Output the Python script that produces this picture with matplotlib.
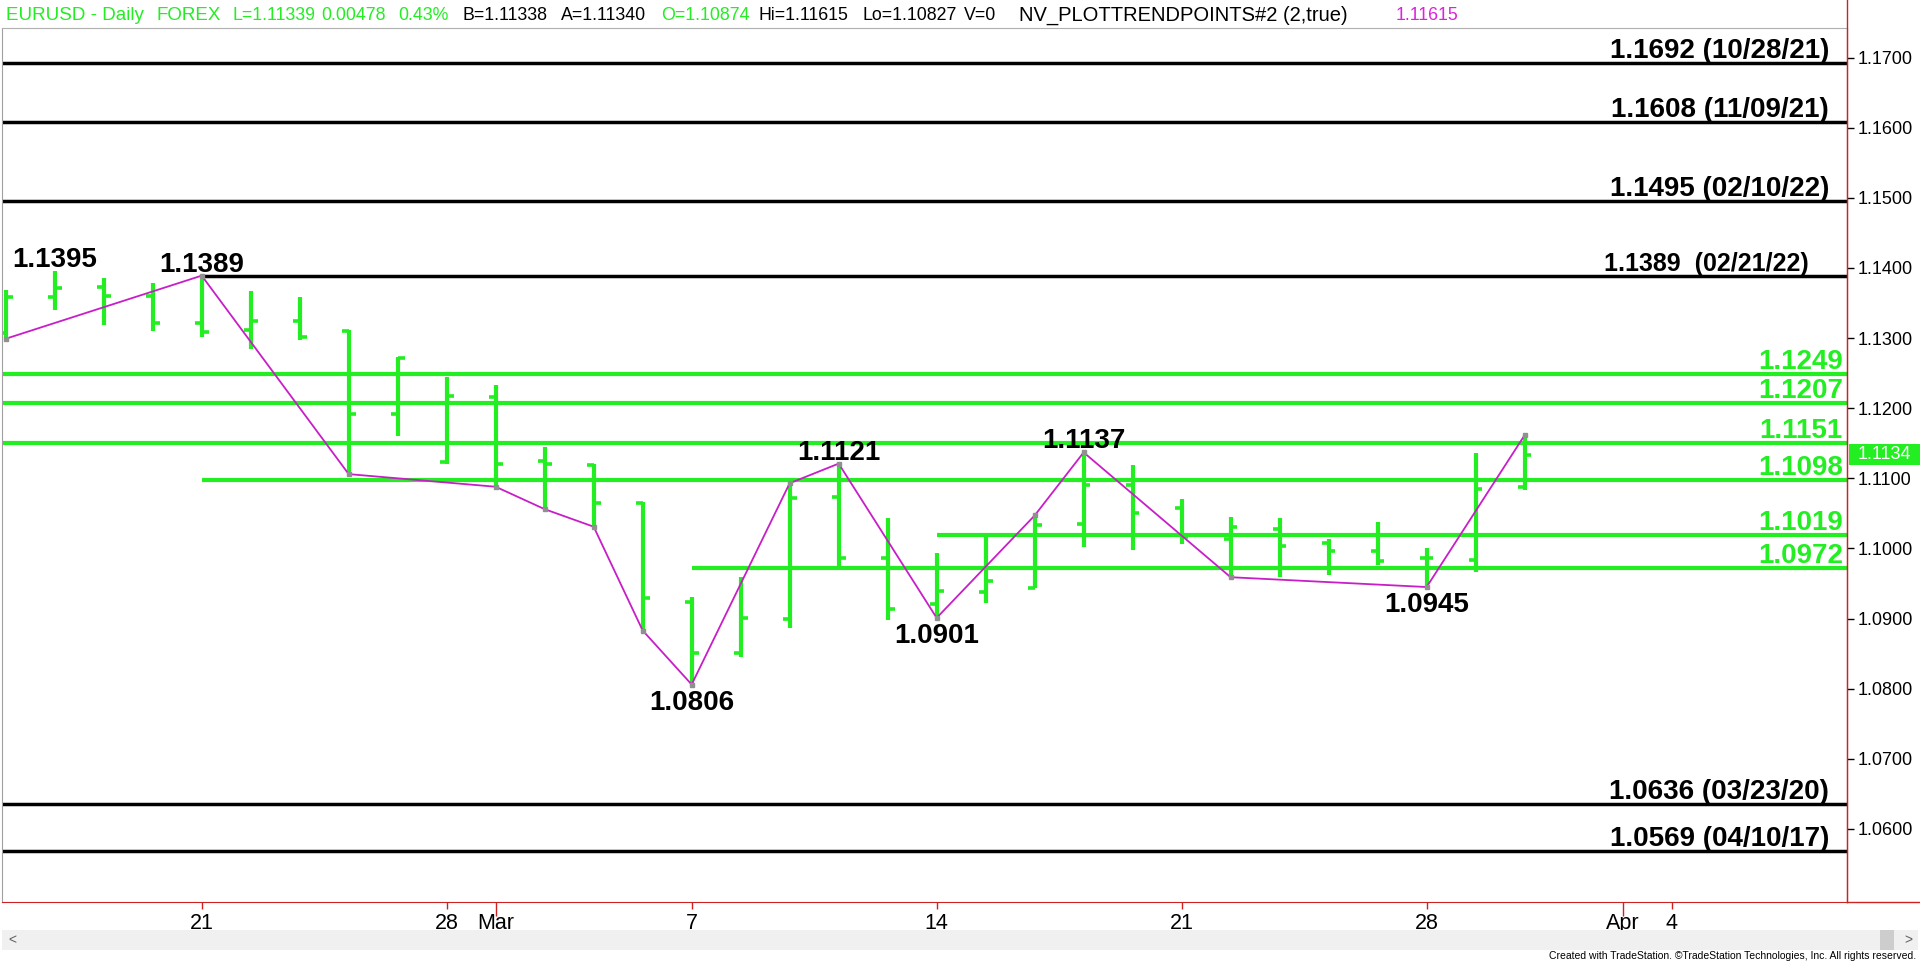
import numpy as np
import pandas as pd
import matplotlib
matplotlib.use("Agg")
import matplotlib.pyplot as plt
import matplotlib.transforms as mtransforms
from matplotlib.patches import Rectangle
from matplotlib.lines import Line2D

plt.rcParams['font.family'] = ['Liberation Sans', 'DejaVu Sans']

# ---- data ----
bar_dates = pd.bdate_range("2022-02-15", "2022-03-30")
opens = [1.1307, 1.1358, 1.1373, 1.1360, 1.1321, 1.1312, 1.1325, 1.1310, 1.1192, 1.1123,
         1.1216, 1.1124, 1.1119, 1.1065, 1.0924, 1.0851, 1.0899, 1.1073, 1.0987, 1.0921,
         1.0938, 1.0944, 1.1035, 1.1090, 1.1058, 1.1014, 1.1028, 1.1008, 1.0996, 1.0986,
         1.0983, 1.10874]
highs = [1.1368, 1.1395, 1.1386, 1.1378, 1.1389, 1.1367, 1.1359, 1.1311, 1.1273, 1.1245,
         1.1233, 1.1144, 1.1121, 1.1066, 1.0931, 1.0959, 1.1093, 1.1121, 1.1044, 1.0994,
         1.1016, 1.1047, 1.1137, 1.1119, 1.1070, 1.1045, 1.1044, 1.1013, 1.1038, 1.1000,
         1.1136, 1.11615]
lows = [1.1299, 1.1340, 1.1318, 1.1310, 1.1301, 1.1285, 1.1297, 1.1106, 1.1161, 1.1121,
        1.1088, 1.1056, 1.1031, 1.0883, 1.0806, 1.0845, 1.0886, 1.0971, 1.0898, 1.0901,
        1.0922, 1.0943, 1.1002, 1.0998, 1.1006, 1.0959, 1.0959, 1.0962, 1.0976, 1.0945,
        1.0966, 1.10827]
closes = [1.1358, 1.1372, 1.1360, 1.1322, 1.1309, 1.1325, 1.1302, 1.1192, 1.1271, 1.1217,
          1.1121, 1.1120, 1.1065, 1.0929, 1.0851, 1.0901, 1.1072, 1.0987, 1.0914, 1.0939,
          1.0954, 1.1033, 1.1090, 1.1051, 1.1016, 1.1030, 1.1004, 1.0996, 1.0982, 1.0986,
          1.1085, 1.11339]

pivot_dates = ["2022-02-15", "2022-02-21", "2022-02-24", "2022-03-01", "2022-03-02",
               "2022-03-03", "2022-03-04", "2022-03-07", "2022-03-09", "2022-03-10",
               "2022-03-14", "2022-03-16", "2022-03-17", "2022-03-22", "2022-03-28",
               "2022-03-30"]
pivot_values = [1.1299, 1.1389, 1.1106, 1.1088, 1.1056, 1.1031, 1.0883, 1.0806, 1.1093,
                1.1121, 1.0901, 1.1047, 1.1137, 1.0959, 1.0945, 1.11615]

swing_dates = ["2022-02-16", "2022-02-21", "2022-03-07", "2022-03-10", "2022-03-14",
               "2022-03-17", "2022-03-28"]
swing_values = [1.1395, 1.1389, 1.0806, 1.1121, 1.0901, 1.1137, 1.0945]
swing_is_high = [True, True, False, True, False, True, False]

black_levels = [1.1692, 1.1608, 1.1495, 1.1389, 1.0636, 1.0569]
black_labels = ["1.1692 (10/28/21)", "1.1608 (11/09/21)", "1.1495 (02/10/22)",
                "1.1389  (02/21/22)", "1.0636 (03/23/20)", "1.0569 (04/10/17)"]
black_starts = [None, None, None, "2022-02-21", None, None]

green_levels = [1.1249, 1.1207, 1.1151, 1.1098, 1.1019, 1.0972]
green_starts = [None, None, None, "2022-02-21", "2022-03-14", "2022-03-07"]

day_ticks = ["2022-02-21", "2022-02-28", "2022-03-07", "2022-03-14", "2022-03-21",
             "2022-03-28", "2022-04-04"]
day_labels = ["21", "28", "7", "14", "21", "28", "4"]
month_ticks = ["2022-03-01", "2022-04-01"]
month_labels = ["Mar", "Apr"]
y_ticks = [1.06, 1.07, 1.08, 1.09, 1.10, 1.11, 1.12, 1.13, 1.14, 1.15, 1.16, 1.17]
last_price = 1.1134

GREEN = "#22ee22"
RED = "#cc2222"
MAGENTA = "#c81ec8"

calendar = pd.bdate_range("2022-02-15", "2022-04-29")
pos = {d: i for i, d in enumerate(calendar)}


def xi(d):
    return pos[pd.Timestamp(d)]


W, H = 1920, 963
fig = plt.figure(figsize=(W / 100, H / 100), dpi=100)
fig.patch.set_facecolor("white")
ax = fig.add_axes([2 / W, (H - 902) / H, 1845 / W, (902 - 28) / H])

x_left, x_right = -0.076, 37.58
ax.set_xlim(x_left, x_right)
ax.set_ylim(1.04959, 1.17421)

ytr = ax.get_yaxis_transform()

# horizontal levels
for lvl, lab, st in zip(black_levels, black_labels, black_starts):
    x0 = x_left if st is None else xi(st)
    ax.hlines(lvl, x0, x_right, color="black", lw=2.5, zorder=1)
    xr = 0.9794 if st is not None else 0.9902
    fs = 18 if st is not None else 20
    ax.annotate(lab, xy=(xr, lvl), xycoords=ytr, xytext=(0, 5), textcoords="offset pixels",
                ha="right", va="baseline", fontsize=fs, fontweight="bold", color="black")

for lvl, st in zip(green_levels, green_starts):
    x0 = x_left if st is None else xi(st)
    ax.hlines(lvl, x0, x_right, color=GREEN, lw=3.0, zorder=1)
    ax.annotate(f"{lvl:.4f}", xy=(0.9978, lvl), xycoords=ytr, xytext=(0, 5),
                textcoords="offset pixels", ha="right", va="baseline", fontsize=20,
                fontweight="bold", color=GREEN)

# OHLC bars
bx = np.array([xi(d) for d in bar_dates])
ax.vlines(bx, lows, highs, color=GREEN, lw=3.0, zorder=2)
ax.hlines(opens, bx - 0.14, bx, color=GREEN, lw=2.6, zorder=2)
ax.hlines(closes, bx, bx + 0.14, color=GREEN, lw=2.6, zorder=2)

# trend points zigzag
px = [xi(d) for d in pivot_dates]
ax.plot(px, pivot_values, color=MAGENTA, lw=1.3, zorder=3)
ax.plot(px, pivot_values, ls="none", marker="s", ms=2.5, color="#909090", zorder=4)

for d, v, hi in zip(swing_dates, swing_values, swing_is_high):
    ax.annotate(f"{v:.4f}", xy=(xi(d), v), xytext=(0, -2 if hi else -5),
                textcoords="offset pixels", ha="center", va="bottom" if hi else "top",
                fontsize=20, fontweight="bold", color="black", zorder=5)

# axes styling
ax.yaxis.tick_right()
ax.set_yticks(y_ticks)
ax.set_yticklabels([f"{v:.4f}" for v in y_ticks])
ax.tick_params(axis="y", direction="out", length=5, width=1, colors="black",
               labelsize=13, pad=3)
ax.set_xticks([xi(d) for d in day_ticks])
ax.set_xticklabels(day_labels)
ax.set_xticks([xi(d) for d in month_ticks], minor=True)
ax.set_xticklabels(month_labels, minor=True)
ax.tick_params(axis="x", which="major", direction="out", length=5, width=1, color=RED,
               labelsize=15.5, pad=3)
ax.tick_params(axis="x", which="minor", direction="out", length=10, width=1, color=RED,
               labelsize=15.5, pad=-2)
ax.spines["right"].set_color(RED)
ax.spines["bottom"].set_color(RED)
ax.spines["left"].set_color("#a0a0a0")
ax.spines["top"].set_color("#b0b0b0")

# axis line extensions
yb = (H - 902) / H
fig.add_artist(Line2D([1847 / W, 1847 / W], [yb, 1], color=RED, lw=1))
fig.add_artist(Line2D([1847 / W, 1], [yb, yb], color=RED, lw=1))

# last price marker on the price scale
btr = mtransforms.blended_transform_factory(fig.transFigure, ax.transData)
ax.add_patch(Rectangle((1849 / W, last_price - 0.0015), 71 / W, 0.0030, transform=btr,
                       facecolor=GREEN, edgecolor="none", clip_on=False, zorder=6))
ax.text(1884 / W, last_price, f"{last_price:.4f}", transform=btr, ha="center",
        va="center", fontsize=13, color="white", zorder=7)

# header
header = [("EURUSD - Daily", 6, GREEN, 13.5), ("FOREX", 157, GREEN, 13.5),
          ("L=1.11339", 233, GREEN, 12.8), ("0.00478", 321, GREEN, 12.8),
          ("0.43%", 398, GREEN, 12.8), ("B=1.11338", 462, "black", 12.8),
          ("A=1.11340", 561, "black", 12.8), ("O=1.10874", 661, GREEN, 12.8),
          ("Hi=1.11615", 759, "black", 12.8), ("Lo=1.10827", 863, "black", 12.8),
          ("V=0", 964, "black", 12.8), ("NV_PLOTTRENDPOINTS#2 (2,true)", 1019, "black", 14.5),
          ("1.11615", 1396, "#dd22dd", 12.8)]
for txt, x, c, fs in header:
    fig.text(x / W, 1 - 15 / H, txt, ha="left", va="center", fontsize=fs, color=c)

# scroll bar and footer
fig.add_artist(Rectangle((2 / W, (H - 950) / H), 1916 / W, 20 / H, facecolor="#f0f0f0",
                         edgecolor="none"))
fig.add_artist(Rectangle((1880 / W, (H - 950) / H), 14 / W, 20 / H, facecolor="#cdcdcd",
                         edgecolor="none"))
fig.text(8 / W, 1 - 940 / H, "<", ha="left", va="center", fontsize=10, color="#606060")
fig.text(1912 / W, 1 - 940 / H, ">", ha="right", va="center", fontsize=10, color="#606060")
fig.text(1916 / W, 1 - 956 / H,
         "Created with TradeStation. \u00a9TradeStation Technologies, Inc. All rights reserved.",
         ha="right", va="center", fontsize=7.5, color="black")

fig.savefig("out.png", dpi=100)
